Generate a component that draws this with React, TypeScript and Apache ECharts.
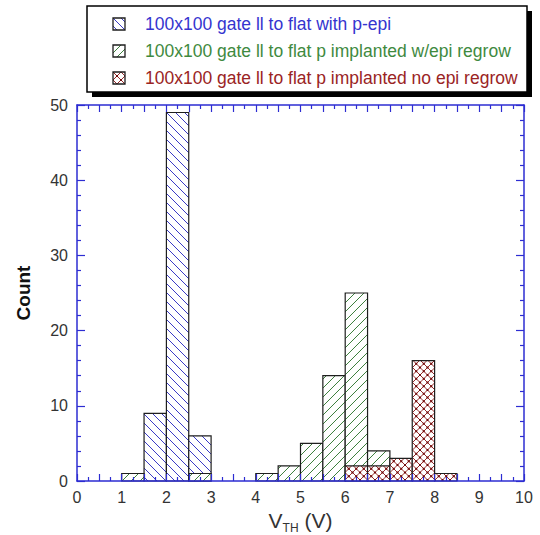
import React, { useEffect, useRef } from "react";
import * as echarts from "echarts";

// Histogram bins are 0.5 V wide; each series lists its bin start values and counts.
const BIN_WIDTH = 0.5;

const seriesNames = [
  "100x100 gate ll to flat with p-epi",
  "100x100 gate ll to flat p implanted w/epi regrow",
  "100x100 gate ll to flat p implanted no epi regrow",
];

const epiBinStarts = [1.5, 2.0, 2.5];
const epiCounts = [9, 49, 6];

const regrowBinStarts = [1.0, 2.5, 4.0, 4.5, 5.0, 5.5, 6.0, 6.5];
const regrowCounts = [1, 1, 1, 2, 5, 14, 25, 4];

const noRegrowBinStarts = [6.0, 6.5, 7.0, 7.5, 8.0];
const noRegrowCounts = [2, 2, 3, 16, 1];

const X_MIN = 0;
const X_MAX = 10;
const Y_MIN = 0;
const Y_MAX = 50;

const FONT = '"Liberation Sans", Arial, sans-serif';
const AXIS_BLUE = "#2d2dd2";
const OUTLINE = "#1e1e1e";

type HatchKind = "back" | "forward" | "cross";

interface HatchStyle {
  kind: HatchKind;
  color: string;
  spacing: number;
  dotColor?: string;
}

const hatchStyles: HatchStyle[] = [
  { kind: "back", color: "#3b3bc6", spacing: 9 },
  { kind: "forward", color: "#3d7f3d", spacing: 9 },
  { kind: "cross", color: "#9a2a2a", spacing: 7.5, dotColor: "#6e0a0a" },
];

const legendTextColors = ["#3535cf", "#3f8a3f", "#9a2424"];

type Seg = [number, number, number, number];

// Diagonal hatch segments clipped to the rectangle [L,R] x [T,B] (pixel space).
function backSegments(L: number, T: number, R: number, B: number, s: number): Seg[] {
  // lines y = x + c
  const out: Seg[] = [];
  const cMin = T - R;
  const cMax = B - L;
  for (let k = Math.ceil(cMin / s); k * s <= cMax; k++) {
    const c = k * s;
    const lo = Math.max(L, T - c);
    const hi = Math.min(R, B - c);
    if (hi - lo > 0.4) out.push([lo, lo + c, hi, hi + c]);
  }
  return out;
}

function forwardSegments(L: number, T: number, R: number, B: number, s: number): Seg[] {
  // lines x + y = c
  const out: Seg[] = [];
  const cMin = L + T;
  const cMax = R + B;
  for (let k = Math.ceil(cMin / s); k * s <= cMax; k++) {
    const c = k * s;
    const lo = Math.max(L, c - B);
    const hi = Math.min(R, c - T);
    if (hi - lo > 0.4) out.push([lo, c - lo, hi, c - hi]);
  }
  return out;
}

function crossDots(L: number, T: number, R: number, B: number, s: number): [number, number][] {
  const pts: [number, number][] = [];
  for (let k1 = Math.ceil((T - R) / s); k1 * s <= B - L; k1++) {
    for (let k2 = Math.ceil((L + T) / s); k2 * s <= R + B; k2++) {
      const c1 = k1 * s;
      const c2 = k2 * s;
      const x = (c2 - c1) / 2;
      const y = (c1 + c2) / 2;
      if (x > L + 0.5 && x < R - 0.5 && y > T + 0.5 && y < B - 0.5) pts.push([x, y]);
    }
  }
  return pts;
}

function hatchedBox(
  L: number,
  T: number,
  R: number,
  B: number,
  style: HatchStyle,
  outlineWidth: number
): any[] {
  const children: any[] = [
    {
      type: "rect",
      shape: { x: L, y: T, width: R - L, height: B - T },
      style: { fill: "#ffffff", stroke: null },
    },
  ];
  const segs: Seg[] = [];
  if (style.kind === "back" || style.kind === "cross") segs.push(...backSegments(L, T, R, B, style.spacing));
  if (style.kind === "forward" || style.kind === "cross") segs.push(...forwardSegments(L, T, R, B, style.spacing));
  for (const [x1, y1, x2, y2] of segs) {
    children.push({
      type: "line",
      shape: { x1, y1, x2, y2 },
      style: { stroke: style.color, lineWidth: 1 },
    });
  }
  if (style.kind === "cross" && style.dotColor) {
    for (const [cx, cy] of crossDots(L, T, R, B, style.spacing)) {
      children.push({
        type: "circle",
        shape: { cx, cy, r: 1.1 },
        style: { fill: style.dotColor },
      });
    }
  }
  children.push({
    type: "rect",
    shape: { x: L, y: T, width: R - L, height: B - T },
    style: { fill: null, stroke: OUTLINE, lineWidth: outlineWidth },
  });
  return children;
}

function makeSeries(index: number, starts: number[], counts: number[]) {
  const style = hatchStyles[index];
  return {
    type: "custom",
    name: seriesNames[index],
    z: 2 + index,
    data: starts.map((x, i) => [x, counts[i]]),
    encode: { x: 0, y: 1 },
    renderItem: (_params: any, api: any) => {
      const x0 = api.value(0);
      const count = api.value(1);
      const p0 = api.coord([x0, 0]);
      const p1 = api.coord([x0 + BIN_WIDTH, count]);
      const L = p0[0];
      const R = p1[0];
      const T = p1[1];
      const B = p0[1];
      return { type: "group", children: hatchedBox(L, T, R, B, style, 1.2) };
    },
  };
}

function legendGraphic(): any[] {
  const boxL = 87;
  const boxT = 6;
  const boxW = 440;
  const boxH = 86;
  const rows = [24, 51, 78];
  const els: any[] = [
    {
      type: "rect",
      shape: { x: boxL + 5, y: boxT + 5, width: boxW, height: boxH },
      style: { fill: "#000000" },
    },
    {
      type: "rect",
      shape: { x: boxL, y: boxT, width: boxW, height: boxH },
      style: { fill: "#ffffff", stroke: "#000000", lineWidth: 1.5 },
    },
  ];
  rows.forEach((cy, i) => {
    const iconStyle: HatchStyle = { ...hatchStyles[i], spacing: 8 };
    els.push({
      type: "group",
      x: 113,
      y: cy - 6,
      children: hatchedBox(0, 0, 12, 12, iconStyle, 1.3),
    });
    els.push({
      type: "text",
      x: 145,
      y: cy,
      style: {
        text: seriesNames[i],
        fill: legendTextColors[i],
        fontSize: 17.5,
        fontFamily: FONT,
        verticalAlign: "middle",
        align: "left",
      },
    });
  });
  return els;
}

const axisLineStyle = { color: AXIS_BLUE, width: 1.5 };

export default function App() {
  const ref = useRef<HTMLDivElement>(null);

  useEffect(() => {
    document.body.style.margin = "0";
    const chart = echarts.init(ref.current!, null, { renderer: "svg" });
    chart.setOption({
      animation: false,
      backgroundColor: "#ffffff",
      grid: { left: 77, right: 16, top: 105, bottom: 54, outerBoundsMode: "none", containLabel: false },
      xAxis: [
        {
          type: "value",
          position: "bottom",
          min: X_MIN,
          max: X_MAX,
          interval: 0.5,
          z: 10,
          axisLine: { show: true, onZero: false, lineStyle: axisLineStyle },
          axisTick: { show: true, inside: true, length: 7, lineStyle: { color: AXIS_BLUE, width: 1.2 } },
          minorTick: { show: true, splitNumber: 2, length: 4, lineStyle: { color: AXIS_BLUE, width: 1.2 } },
          splitLine: { show: false },
          axisLabel: {
            formatter: (v: number) => (Number.isInteger(v) ? String(v) : ""),
            color: "#333333",
            fontSize: 16,
            fontFamily: FONT,
            margin: 8,
          },
          name: "{v|V}{s|TH}{v| (V)}",
          nameLocation: "middle",
          nameGap: 21,
          nameTextStyle: {
            rich: {
              v: { fontSize: 21, color: "#333333", fontFamily: FONT },
              s: { fontSize: 12, color: "#333333", fontFamily: FONT, padding: [15, 0, 0, 0] },
            },
          },
        },
        {
          type: "value",
          position: "top",
          min: X_MIN,
          max: X_MAX,
          interval: 0.5,
          z: 10,
          axisLine: { show: true, onZero: false, lineStyle: axisLineStyle },
          axisTick: { show: true, inside: true, length: 7, lineStyle: { color: AXIS_BLUE, width: 1.2 } },
          minorTick: { show: true, splitNumber: 2, length: 4, lineStyle: { color: AXIS_BLUE, width: 1.2 } },
          splitLine: { show: false },
          axisLabel: { show: false },
        },
      ],
      yAxis: [
        {
          type: "value",
          position: "left",
          min: Y_MIN,
          max: Y_MAX,
          interval: 10,
          z: 10,
          axisLine: { show: true, onZero: false, lineStyle: axisLineStyle },
          axisTick: { show: true, inside: true, length: 8, lineStyle: { color: AXIS_BLUE, width: 1.2 } },
          minorTick: { show: true, splitNumber: 5, length: 4, lineStyle: { color: AXIS_BLUE, width: 1.2 } },
          splitLine: { show: false },
          axisLabel: { color: "#333333", fontSize: 16, fontFamily: FONT, margin: 9 },
          name: "Count",
          nameLocation: "middle",
          nameGap: 44,
          nameTextStyle: { fontSize: 19, fontWeight: "bold", color: "#111111", fontFamily: FONT },
        },
        {
          type: "value",
          position: "right",
          min: Y_MIN,
          max: Y_MAX,
          interval: 10,
          z: 10,
          axisLine: { show: true, onZero: false, lineStyle: axisLineStyle },
          axisTick: { show: true, inside: true, length: 8, lineStyle: { color: AXIS_BLUE, width: 1.2 } },
          minorTick: { show: true, splitNumber: 5, length: 4, lineStyle: { color: AXIS_BLUE, width: 1.2 } },
          splitLine: { show: false },
          axisLabel: { show: false },
        },
      ],
      series: [
        makeSeries(0, epiBinStarts, epiCounts),
        makeSeries(1, regrowBinStarts, regrowCounts),
        makeSeries(2, noRegrowBinStarts, noRegrowCounts),
      ],
      graphic: legendGraphic(),
    });
    return () => chart.dispose();
  }, []);

  return <div ref={ref} style={{ width: 540, height: 535 }} />;
}
